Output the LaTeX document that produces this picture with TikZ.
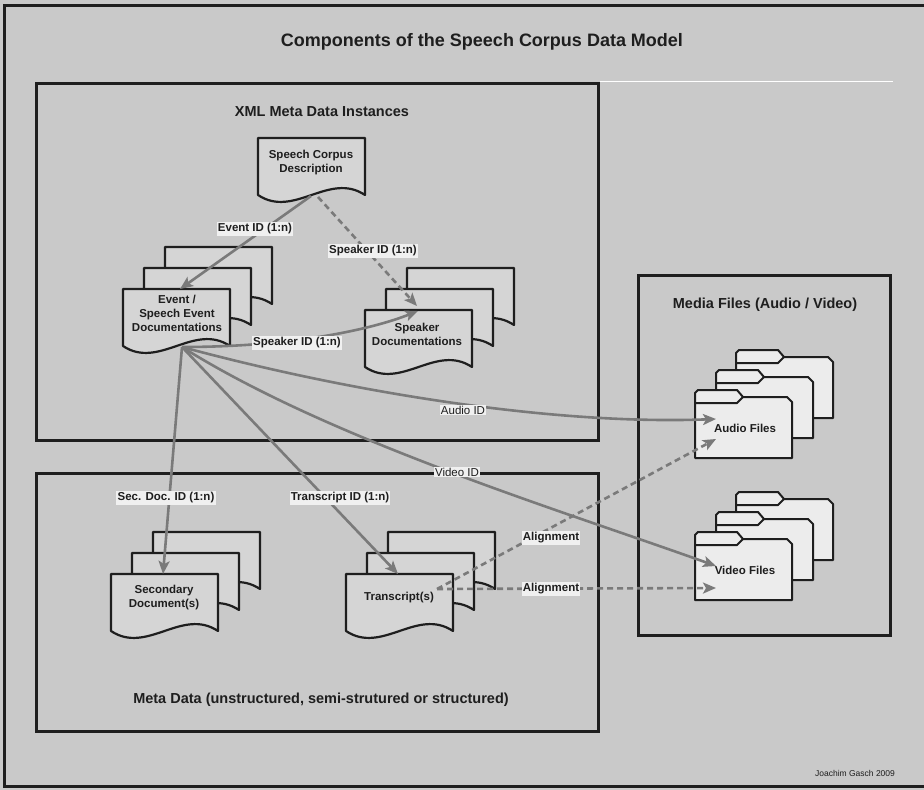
\documentclass[tikz,border=0pt]{standalone}
\usepackage{fontspec}
\setmainfont{Liberation Sans}
\usetikzlibrary{arrows.meta}
\definecolor{bgc}{HTML}{C9C9C9}
\definecolor{docfill}{HTML}{D5D5D5}
\definecolor{foldfill}{HTML}{ECECEC}
\definecolor{conncol}{HTML}{7A7A7A}
\definecolor{lblfill}{HTML}{F0F0F0}
\definecolor{inkc}{HTML}{1E1E1E}
\newcommand\docshape[2]{\filldraw[docsty] (#1,#2) -- (#1+107,#2) -- (#1+107,#2+57) .. controls (#1+71,#2+33) and (#1+36,#2+81) .. (#1,#2+57) -- cycle;}
\newcommand\docstack[2]{\docshape{#1+42}{#2-42}\docshape{#1+21}{#2-21}\docshape{#1}{#2}}
\newcommand\foldshape[2]{\filldraw[foldsty] (#1,#2+68) -- (#1,#2+3) -- (#1+3,#2) -- (#1+42,#2) -- (#1+48,#2+7) -- (#1+92,#2+7) -- (#1+97,#2+12) -- (#1+97,#2+68) -- cycle;
  \draw[foldsty,fill=none] (#1,#2+13) -- (#1+42,#2+13) -- (#1+48,#2+7);}
\newcommand\foldstack[2]{\foldshape{#1+41}{#2-40}\foldshape{#1+21}{#2-20}\foldshape{#1}{#2}}
\begin{document}
\begin{tikzpicture}[x=1pt,y=-1pt,
  docsty/.style={fill=docfill, draw=inkc, line width=2.2pt, line join=round},
  foldsty/.style={fill=foldfill, draw=inkc, line width=2pt, line join=round},
  boxsty/.style={draw=inkc, line width=3pt},
  conn/.style={draw=conncol, line width=2.6pt, -{Stealth[length=13pt,width=11pt,inset=3pt]}},
  dconn/.style={conn, dash pattern=on 6pt off 4pt},
  lbl/.style={fill=lblfill, inner sep=1.2pt, font=\fontsize{11.5}{13}\selectfont\bfseries, text=inkc},
  lblr/.style={fill=lblfill, inner sep=1.2pt, font=\fontsize{11.5}{13}\selectfont, text=inkc},
  doctext/.style={align=center, font=\fontsize{11.5}{14}\selectfont\bfseries, text=inkc},
  heading/.style={font=\fontsize{14.5}{17}\selectfont\bfseries, text=inkc}]
\useasboundingbox (0,0) rectangle (924,790);
\fill[bgc] (0,0) rectangle (924,790);
% outer frame
\draw[boxsty] (4,5) rectangle (940,786);
\draw[white, line width=0.8pt] (600,81) -- (893,81);
% containers
\draw[boxsty] (36,83) rectangle (598,440);
\draw[boxsty] (36,473) rectangle (598,731);
\draw[boxsty] (638,275) rectangle (890,635);
% headings
\node[font=\fontsize{18}{21}\selectfont\bfseries, text=inkc] (title) at (482,42) {Components of the Speech Corpus Data Model};
\node[heading] (xmlt) at (322,112) {XML Meta Data Instances};
\node[heading] (mediat) at (765,305) {Media Files (Audio / Video)};
\node[heading] (metat) at (321,700) {Meta Data (unstructured, semi-strutured or structured)};
\node[font=\fontsize{8.5}{10}\selectfont, text=inkc] (credit) at (855,773) {Joachim Gasch 2009};
% documents
\docshape{258}{138}
\docstack{123}{289}
\docstack{365}{310}
\docstack{111}{574}
\docstack{346}{574}
% folders
\foldstack{695}{390}
\foldstack{695}{532}
% texts
\node[doctext] (scd) at (311,163) {Speech Corpus\\Description};
\node[doctext] (evd) at (177,313) {Event /\\Speech Event\\Documentations};
\node[doctext] (spd) at (417,334) {Speaker\\Documentations};
\node[doctext] (secd) at (164,598) {Secondary\\Document(s)};
\node[doctext] (trd) at (399,598) {Transcript(s)};
\node[doctext] (aud) at (745,428) {Audio Files};
\node[doctext] (vid) at (745,570) {Video Files};
% connector end points
\coordinate (scdA) at (311,196);
\coordinate (scdB) at (318,197);
\coordinate (evA) at (180,289);
\coordinate (evS) at (182,347);
\coordinate (spA) at (417,306);
\coordinate (spB) at (418,311);
\coordinate (auA) at (716,419);
\coordinate (auB) at (716,439);
\coordinate (viA) at (716,566);
\coordinate (viB) at (716,588);
\coordinate (secA) at (163,574);
\coordinate (trA) at (398,574);
\coordinate (trB) at (437,589);
% connectors
\draw[conn] (scdA) -- (evA);
\draw[dconn] (scdB) -- (spA);
\draw[conn] (evS) .. controls (290,347) and (370,330) .. (spB);
\draw[conn] (evS) .. controls (360,395) and (560,425) .. (auA);
\draw[conn] (evS) .. controls (330,440) and (560,510) .. (viA);
\draw[conn] (evS) -- (secA);
\draw[conn] (evS) -- (trA);
\draw[dconn] (trB) -- (auB);
\draw[dconn] (trB) -- (viB);
% labels
\node[lbl] (l1) at (255,229) {Event ID (1:n)};
\node[lbl] (l2) at (373,251) {Speaker ID (1:n)};
\node[lbl] (l3) at (297,343) {Speaker ID (1:n)};
\node[lblr] (l4) at (463,410) {Audio ID};
\node[lblr] (l5) at (457,472) {Video ID};
\node[lbl] (l6) at (166,498) {Sec. Doc. ID (1:n)};
\node[lbl] (l7) at (340,498) {Transcript ID (1:n)};
\node[lbl] (l8) at (551,538) {Alignment};
\node[lbl] (l9) at (551,589) {Alignment};
\end{tikzpicture}
\end{document}
